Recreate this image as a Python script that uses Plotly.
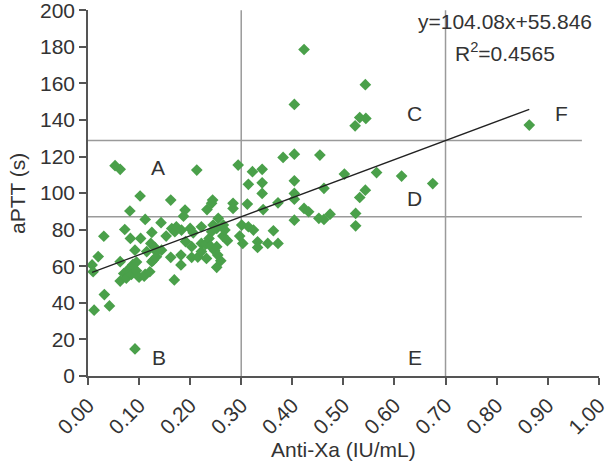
import plotly.graph_objects as go

anti_xa = [0.008, 0.010, 0.012, 0.020, 0.031, 0.032, 0.042, 0.053, 0.063, 0.063, 0.063, 0.070,
           0.072, 0.075, 0.078, 0.082, 0.083, 0.085, 0.088, 0.092, 0.092, 0.095, 0.095, 0.100,
           0.102, 0.103, 0.110, 0.112, 0.112, 0.115, 0.121, 0.123, 0.125, 0.125, 0.128, 0.131,
           0.134, 0.134, 0.143, 0.144,
           0.153, 0.162, 0.162, 0.164, 0.169, 0.170, 0.173, 0.182, 0.182, 0.183, 0.187, 0.190,
           0.191, 0.200, 0.203, 0.203, 0.206, 0.213, 0.215, 0.222, 0.222, 0.222, 0.230, 0.232,
           0.233, 0.237, 0.240, 0.242, 0.244, 0.242, 0.245, 0.248, 0.252, 0.252, 0.252, 0.254,
           0.255, 0.260, 0.264, 0.265, 0.268, 0.273, 0.284, 0.284, 0.294, 0.297, 0.303, 0.301,
           0.312, 0.314, 0.314, 0.322, 0.324, 0.332, 0.332, 0.341, 0.341, 0.341, 0.343, 0.352,
           0.363, 0.372, 0.372, 0.382, 0.404, 0.404, 0.404, 0.404, 0.404, 0.404, 0.423, 0.423,
           0.432, 0.452, 0.454, 0.462, 0.462, 0.474, 0.502, 0.524, 0.524, 0.523, 0.532, 0.532,
           0.543, 0.544, 0.543, 0.565, 0.614, 0.675, 0.864]
aptt = [60.7, 57.0, 36.0, 65.3, 76.4, 44.5, 38.3, 115.0, 113.0, 62.5, 51.9, 56.0,
        80.1, 53.5, 58.0, 90.2, 75.2, 55.5, 61.0, 68.8, 14.8, 62.3, 57.5, 54.0,
        98.4, 75.2, 54.6, 85.6, 55.6, 68.0, 57.0, 72.5, 78.5, 62.5, 63.4, 70.3,
        65.2, 68.0, 83.8, 68.8,
        76.5, 96.2, 64.9, 80.6, 52.5, 78.9, 81.6, 66.1, 60.7, 79.8, 87.4, 90.7,
        73.5, 80.7, 70.7, 64.9, 78.3, 112.6, 65.0, 81.6, 72.5, 68.0, 72.0, 64.3,
        91.0, 75.2, 71.0, 78.9, 96.2, 94.4, 82.5, 68.5, 80.7, 70.7, 59.4, 66.1,
        86.2, 63.0, 76.5, 82.5, 79.8, 74.0, 94.4, 91.6, 115.3, 76.5, 72.5, 82.5,
        94.0, 81.6, 104.8, 111.7, 79.8, 73.4, 70.3, 113.0, 105.6, 99.8, 91.0, 72.5,
        79.4, 72.5, 94.7, 119.5, 121.3, 148.5, 106.7, 99.8, 96.7, 85.2, 178.5, 91.6,
        89.8, 86.2, 120.8, 85.6, 102.6, 88.5, 110.4, 88.9, 82.1, 136.8, 141.3, 97.6,
        159.3, 140.8, 101.6, 111.2, 109.3, 105.2, 137.2]

slope = 104.08
intercept = 55.846
r_squared = 0.4565
x_cutoffs = [0.30, 0.70]
x_ticks = [0.0, 0.1, 0.2, 0.3, 0.4, 0.5, 0.6, 0.7, 0.8, 0.9, 1.0]
x_tick_labels = ["0.00", "0.10", "0.20", "0.30", "0.40", "0.50", "0.60", "0.70", "0.80", "0.90", "1.00"]
y_ticks = [0, 20, 40, 60, 80, 100, 120, 140, 160, 180, 200]
zone_labels = ["A", "B", "C", "D", "E", "F"]
zone_x = [0.137, 0.139, 0.64, 0.64, 0.64, 0.927]
zone_y = [114, 10, 143.7, 97, 10, 143.7]

y_cutoffs = [slope * c + intercept for c in x_cutoffs]
x_min, x_max = min(anti_xa), max(anti_xa)
trend_x = [x_min, x_max]
trend_y = [slope * v + intercept for v in trend_x]

fig = go.Figure()
fig.add_trace(go.Scatter(x=anti_xa, y=aptt, mode="markers",
                         marker=dict(symbol="diamond", size=9, color="#4aa04a"),
                         showlegend=False, hoverinfo="x+y"))
fig.add_trace(go.Scatter(x=trend_x, y=trend_y, mode="lines",
                         line=dict(color="#222222", width=1.3),
                         showlegend=False, hoverinfo="skip"))

for c in x_cutoffs:
    fig.add_shape(type="line", x0=c, x1=c, y0=0, y1=200, xref="x", yref="y",
                  line=dict(color="#9a9a9a", width=1.5), layer="below")
for c in y_cutoffs:
    fig.add_shape(type="line", x0=0, x1=0.967, y0=c, y1=c, xref="x", yref="y",
                  line=dict(color="#9a9a9a", width=1.5), layer="below")

font_main = dict(family="Liberation Sans, Arial, sans-serif", size=21, color="#333333")

for lab, lx, ly in zip(zone_labels, zone_x, zone_y):
    fig.add_annotation(x=lx, y=ly, text=lab, showarrow=False, font=font_main,
                       xanchor="center", yanchor="middle")

fig.add_annotation(x=0.816, y=194, text=f"y={slope}x+{intercept}", showarrow=False,
                   font=font_main, xanchor="center", yanchor="middle")
fig.add_annotation(x=0.816, y=177, text=f"R<sup>2</sup>={r_squared}", showarrow=False,
                   font=font_main, xanchor="center", yanchor="middle")

fig.add_annotation(xref="paper", yref="paper", x=0.5, y=-0.202, text="Anti-Xa (IU/mL)",
                   showarrow=False, font=font_main, xanchor="center", yanchor="middle")
fig.add_annotation(xref="paper", yref="paper", x=-0.139, y=0.5, text="aPTT (s)",
                   textangle=-90, showarrow=False, font=font_main,
                   xanchor="center", yanchor="middle")

axis_common = dict(showgrid=False, zeroline=False, showline=True, linecolor="#555555",
                   linewidth=1.5, ticks="outside", ticklen=7, tickwidth=1.5,
                   tickcolor="#555555", tickfont=font_main, automargin=False,
                   ticklabeloverflow="allow")

fig.update_layout(
    width=606, height=465,
    margin=dict(l=88, r=7, t=10, b=89, autoexpand=False),
    plot_bgcolor="white", paper_bgcolor="white",
    xaxis=dict(range=[0, 1.0005], tickmode="array", tickvals=x_ticks,
               ticktext=x_tick_labels, tickangle=-45, **axis_common),
    yaxis=dict(range=[0, 200.1], tickmode="array", tickvals=y_ticks, **axis_common),
)

fig.write_html("out.html", config={"displayModeBar": False},
               post_script="document.body.style.margin='0px';document.body.style.padding='0px';document.body.style.overflow='hidden';")
